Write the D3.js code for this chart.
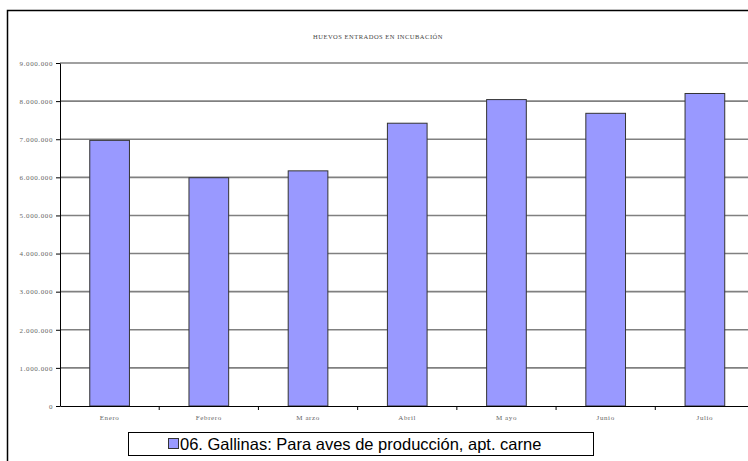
<!DOCTYPE html>
<meta charset="utf-8">
<style>
body { margin: 0; background: #fff; }
svg { display: block; }
.grid line { stroke: #808080; stroke-width: 1.6px; }
.axis path, .axis line { stroke: #000; }
.axis text { fill: #666; font-family: "Liberation Serif", serif; font-size: 7px; letter-spacing: 0.6px; }
.bar { fill: #9999ff; stroke: #333; stroke-width: 1px; }
</style>
<svg width="748" height="461"></svg>
<script src="https://d3js.org/d3.v7.min.js"></script>
<script>

var months = ["Enero", "Febrero", "M arzo", "Abril", "M ayo", "Junio", "Julio"];
var huevos = [6970000, 5990000, 6170000, 7420000, 8040000, 7680000, 8200000];
var yTicks = [0, 1000000, 2000000, 3000000, 4000000, 5000000, 6000000, 7000000, 8000000, 9000000];
var seriesName = "06. Gallinas: Para aves de producción, apt. carne";
var title = "HUEVOS ENTRADOS EN INCUBACIÓN";

var svg = d3.select("svg");

var x = d3.scaleBand().domain(months).range([60, 754.5]).padding(0),
    y = d3.scaleLinear().domain([0, 9000000]).range([406, 63]);

var fmt = function(d) { return d3.format(",")(d).replace(/,/g, "."); };

// chart frame (only left and top edges are visible)
svg.append("path")
    .attr("d", "M7.5,461V10.5H748")
    .attr("fill", "none")
    .attr("stroke", "#000")
    .attr("stroke-width", 1.5);

svg.append("text")
    .attr("x", 378)
    .attr("y", 39)
    .attr("text-anchor", "middle")
    .attr("fill", "#444")
    .style("font-family", "Liberation Serif, serif")
    .style("font-size", "6.5px")
    .style("letter-spacing", "0.5px")
    .text(title);

// gridlines
svg.append("g")
    .attr("class", "grid")
    .selectAll("line")
    .data(yTicks.slice(1))
  .enter().append("line")
    .attr("x1", 60)
    .attr("x2", 754)
    .attr("y1", function(d) { return y(d); })
    .attr("y2", function(d) { return y(d); });

svg.selectAll(".bar")
    .data(huevos)
  .enter().append("rect")
    .attr("class", "bar")
    .attr("x", function(d, i) { return x(months[i]) + x.bandwidth() * 0.3; })
    .attr("y", function(d) { return y(d); })
    .attr("width", x.bandwidth() * 0.4)
    .attr("height", function(d) { return y(0) - y(d); });

svg.append("g")
    .attr("class", "axis")
    .attr("transform", "translate(60,0)")
    .call(d3.axisLeft(y).tickValues(yTicks).tickFormat(fmt).tickSize(4).tickSizeOuter(0).tickPadding(3));

var xAxis = svg.append("g")
    .attr("class", "axis")
    .attr("transform", "translate(0,406)")
    .call(d3.axisBottom(x).tickSize(0).tickSizeOuter(0).tickPadding(9));

// tick marks sit between categories
xAxis.selectAll(".sep")
    .data(months.slice(1))
  .enter().append("line")
    .attr("x1", function(d) { return x(d); })
    .attr("x2", function(d) { return x(d); })
    .attr("y1", 0)
    .attr("y2", 4)
    .attr("stroke", "#000");

// legend
var leg = svg.append("g");
leg.append("rect")
    .attr("x", 128.5).attr("y", 432.5)
    .attr("width", 465).attr("height", 23)
    .attr("fill", "#fff").attr("stroke", "#000");
leg.append("rect")
    .attr("x", 168.5).attr("y", 438.5)
    .attr("width", 10).attr("height", 10)
    .attr("fill", "#9999ff").attr("stroke", "#333");
leg.append("text")
    .attr("x", 180)
    .attr("y", 450)
    .style("font-family", "Liberation Sans, Arial, sans-serif")
    .style("font-size", "16.5px")
    .attr("fill", "#000")
    .text(seriesName);

</script>
